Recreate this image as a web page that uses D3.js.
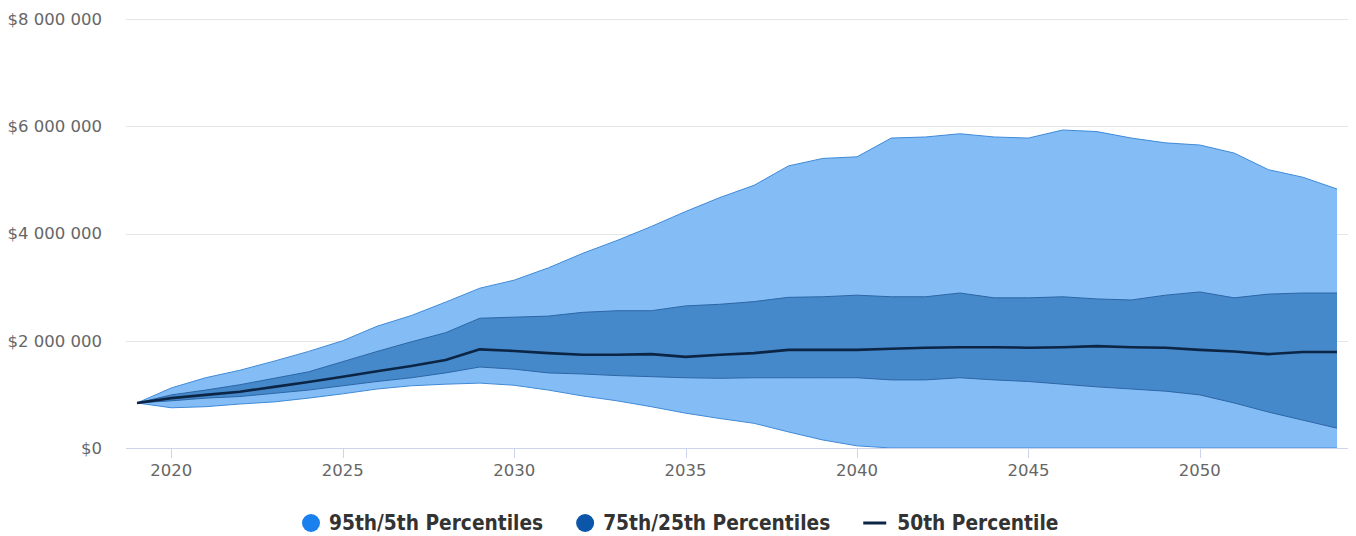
<!DOCTYPE html>
<html>
<head>
<meta charset="utf-8">
<script src="https://cdn.jsdelivr.net/npm/d3@7"></script>
<style>
  html, body { margin: 0; padding: 0; background: #fff; }
  svg { display: block; }
  .axis-label { font-family: "DejaVu Sans", sans-serif; font-size: 16.5px; fill: #666; }
  .legend-label { font-family: "DejaVu Sans Condensed", "DejaVu Sans", sans-serif; font-size: 20.7px; font-weight: bold; fill: #333; }
</style>
</head>
<body>
<svg id="chart" width="1356" height="536"></svg>
<script>
// values in millions of dollars
const years = d3.range(2019, 2055);
const p95 = [0.84, 1.12, 1.31, 1.45, 1.62, 1.80, 2.00, 2.27, 2.47, 2.72, 2.98, 3.13, 3.36, 3.63, 3.87, 4.13, 4.41, 4.67,
  4.90, 5.26, 5.40, 5.43, 5.78, 5.80, 5.86, 5.80, 5.78, 5.93, 5.90, 5.78, 5.69, 5.65, 5.50, 5.19, 5.05, 4.83];
const p75 = [0.84, 0.99, 1.08, 1.18, 1.30, 1.42, 1.61, 1.80, 1.98, 2.15, 2.42, 2.44, 2.46, 2.53, 2.56, 2.56, 2.65, 2.68,
  2.73, 2.81, 2.82, 2.85, 2.82, 2.82, 2.89, 2.80, 2.80, 2.82, 2.78, 2.76, 2.85, 2.91, 2.80, 2.87, 2.89, 2.89];
const p50 = [0.84, 0.93, 0.99, 1.05, 1.14, 1.23, 1.33, 1.43, 1.53, 1.64, 1.84, 1.81, 1.77, 1.74, 1.74, 1.75, 1.70, 1.74,
  1.77, 1.83, 1.83, 1.83, 1.85, 1.87, 1.88, 1.88, 1.87, 1.88, 1.90, 1.88, 1.87, 1.83, 1.80, 1.75, 1.79, 1.79];
const p25 = [0.84, 0.88, 0.93, 0.96, 1.02, 1.08, 1.16, 1.24, 1.31, 1.40, 1.51, 1.47, 1.40, 1.38, 1.35, 1.33, 1.31, 1.30,
  1.31, 1.31, 1.31, 1.31, 1.27, 1.27, 1.31, 1.27, 1.24, 1.19, 1.14, 1.10, 1.06, 0.99, 0.84, 0.67, 0.52, 0.37];
const p5 = [0.84, 0.75, 0.77, 0.82, 0.86, 0.93, 1.01, 1.10, 1.16, 1.19, 1.21, 1.17, 1.08, 0.97, 0.88, 0.77, 0.65, 0.55,
  0.46, 0.30, 0.15, 0.04, 0, 0, 0, 0, 0, 0, 0, 0, 0, 0, 0, 0, 0, 0];

const yTicks = [0, 2, 4, 6, 8];
const xTicks = [2020, 2025, 2030, 2035, 2040, 2045, 2050];
const legendItems = [
  { label: '95th/5th Percentiles', type: 'circle', color: '#1a80ee' },
  { label: '75th/25th Percentiles', type: 'circle', color: '#0b56a8' },
  { label: '50th Percentile', type: 'line', color: '#0c2544' }
];

const plot = { left: 126, right: 1348, top: 19, bottom: 448 };

const svg = d3.select('#chart');

const x = d3.scaleLinear().domain([2019, 2054]).range([137, 1337]);
const y = d3.scaleLinear().domain([0, 8]).range([plot.bottom, plot.top]);

const money = d3.formatLocale({ decimal: '.', thousands: ' ', grouping: [3], currency: ['$', ''] }).format('$,');

// grid lines
svg.append('g')
  .selectAll('line')
  .data(yTicks.filter((d) => d !== 0))
  .join('line')
  .attr('x1', plot.left)
  .attr('x2', plot.right)
  .attr('y1', (d) => Math.round(y(d)) + 0.5)
  .attr('y2', (d) => Math.round(y(d)) + 0.5)
  .attr('stroke', '#e6e6e6');

// y labels
svg.append('g')
  .selectAll('text')
  .data(yTicks)
  .join('text')
  .attr('class', 'axis-label')
  .attr('x', 102)
  .attr('y', (d) => y(d))
  .attr('dy', '0.35em')
  .attr('text-anchor', 'end')
  .text((d) => money(d * 1e6));

const rows = years.map((yr, i) => ({ yr, p95: p95[i], p75: p75[i], p50: p50[i], p25: p25[i], p5: p5[i] }));

const outerArea = d3.area().x((d) => x(d.yr)).y0((d) => y(d.p5)).y1((d) => y(d.p95));
const innerArea = d3.area().x((d) => x(d.yr)).y0((d) => y(d.p25)).y1((d) => y(d.p75));
const edge = (key) => d3.line().x((d) => x(d.yr)).y((d) => y(d[key]));

svg.append('path').datum(rows).attr('d', outerArea).attr('fill', '#84bdf5');
['p95', 'p5'].forEach((k) => {
  svg.append('path').datum(rows).attr('d', edge(k)).attr('fill', 'none')
    .attr('stroke', '#3f8ad8').attr('stroke-width', 1);
});

svg.append('path').datum(rows).attr('d', innerArea).attr('fill', '#4689cb');
['p75', 'p25'].forEach((k) => {
  svg.append('path').datum(rows).attr('d', edge(k)).attr('fill', 'none')
    .attr('stroke', '#2c66a6').attr('stroke-width', 1);
});

// x axis line + ticks
svg.append('line')
  .attr('x1', plot.left).attr('x2', plot.right)
  .attr('y1', plot.bottom + 0.5).attr('y2', plot.bottom + 0.5)
  .attr('stroke', '#ccd6eb');

svg.append('g')
  .selectAll('line')
  .data(xTicks)
  .join('line')
  .attr('x1', (d) => Math.round(x(d)) + 0.5)
  .attr('x2', (d) => Math.round(x(d)) + 0.5)
  .attr('y1', plot.bottom)
  .attr('y2', plot.bottom + 10)
  .attr('stroke', '#ccd6eb');

svg.append('g')
  .selectAll('text')
  .data(xTicks)
  .join('text')
  .attr('class', 'axis-label')
  .attr('x', (d) => x(d))
  .attr('y', 476)
  .attr('text-anchor', 'middle')
  .text((d) => d);

// median
svg.append('path').datum(rows).attr('d', edge('p50')).attr('fill', 'none')
  .attr('stroke', '#0c2544').attr('stroke-width', 2.6).attr('stroke-linejoin', 'round');

// legend
const legend = svg.append('g');
let cursor = 0;
legendItems.forEach((item) => {
  const g = legend.append('g').attr('transform', `translate(${cursor},0)`);
  if (item.type === 'circle') {
    g.append('circle').attr('cx', 9).attr('cy', 523).attr('r', 9).attr('fill', item.color);
  } else {
    g.append('line').attr('x1', 0).attr('x2', 23).attr('y1', 523).attr('y2', 523)
      .attr('stroke', item.color).attr('stroke-width', 3);
  }
  const textX = item.type === 'circle' ? 27 : 34;
  const t = g.append('text').attr('class', 'legend-label').attr('x', textX).attr('y', 530).text(item.label);
  cursor += textX + t.node().getComputedTextLength() + 33;
});
const legendWidth = cursor - 33;
legend.attr('transform', `translate(${Math.round(680 - legendWidth / 2)},0)`);
</script>
</body>
</html>
